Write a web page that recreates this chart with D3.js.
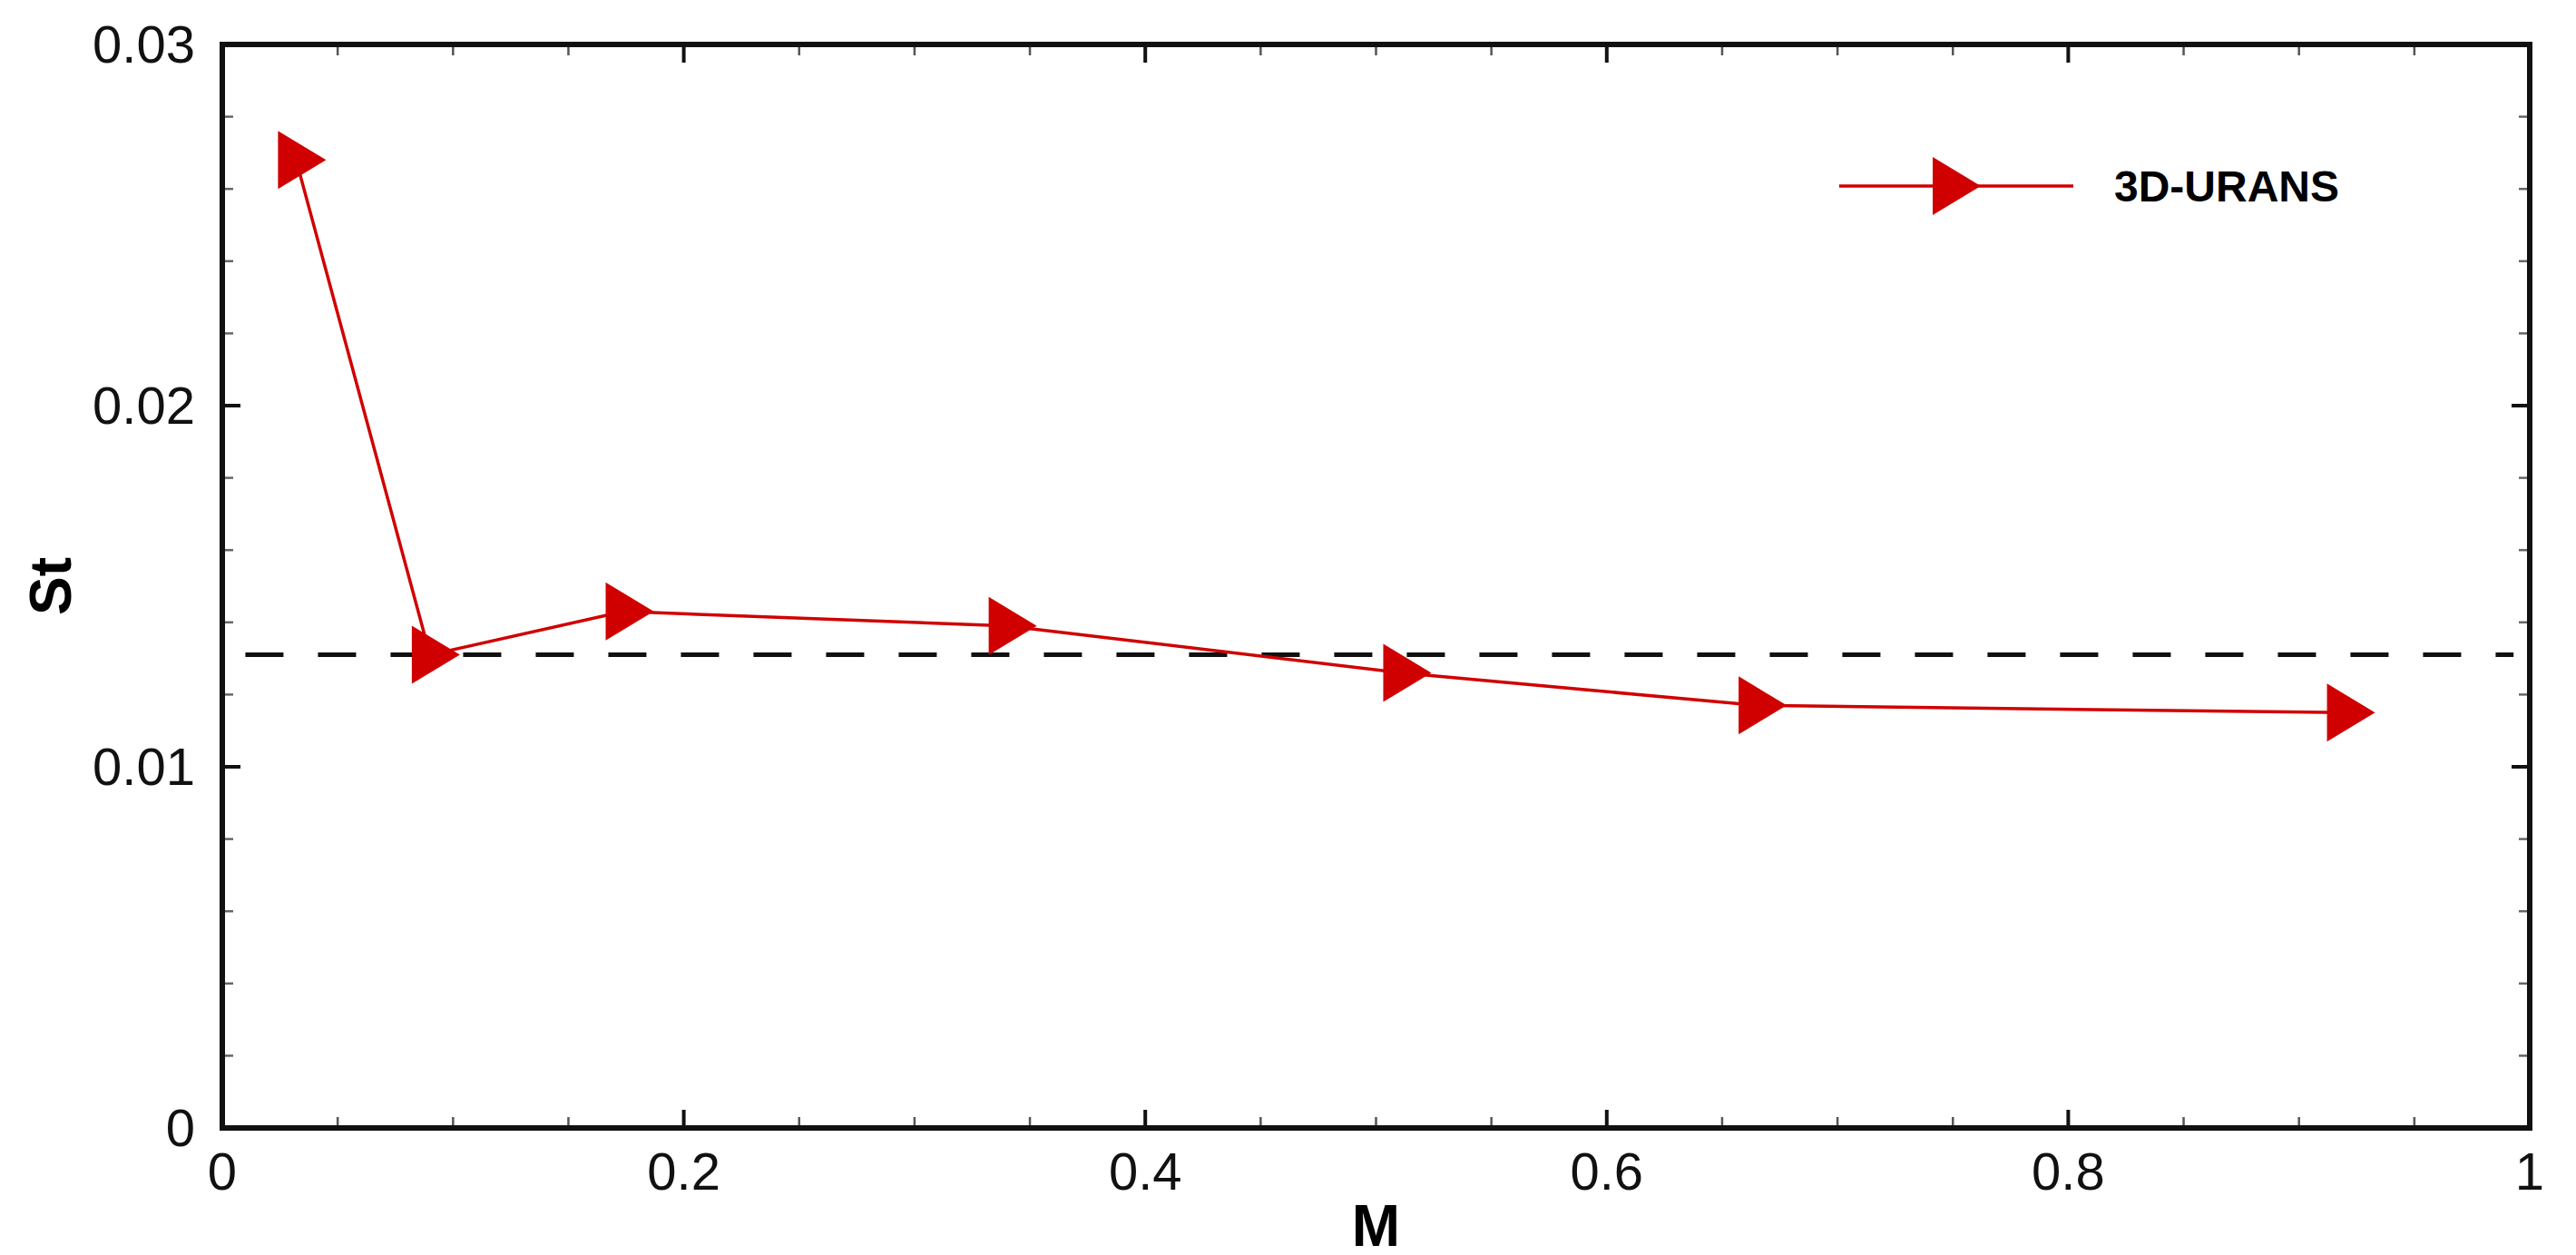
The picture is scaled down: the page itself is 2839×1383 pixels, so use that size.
<!DOCTYPE html>
<html><head><meta charset="utf-8">
<script src="https://cdn.jsdelivr.net/npm/d3@7"></script>
<style>html,body{margin:0;padding:0;background:#fff;}</style>
</head><body>
<svg id="c" width="2839" height="1383"></svg>
<script>
const machNumbers = [0.032, 0.09, 0.174, 0.34, 0.511, 0.665, 0.92];
const strouhal = [0.0268, 0.0131, 0.0143, 0.0139, 0.0126, 0.0117, 0.0115];
const referenceSt = [0.0131];
const referenceRange = [0.01, 0.993];
const xTicks = [0, 0.2, 0.4, 0.6, 0.8, 1];
const yTicks = [0, 0.01, 0.02, 0.03];
const seriesName = "3D-URANS";

const svg = d3.select("#c");
const L = 245, R = 2788, T = 49, B = 1243;
const x = d3.scaleLinear().domain([0, 1]).range([L, R]);
const y = d3.scaleLinear().domain([0, 0.03]).range([B, T]);
const font = "Arial, 'Liberation Sans', sans-serif";
const red = "#d00000";

const xMinor = d3.range(0, 1.0001, 0.05).filter(v => Math.abs(v*5 - Math.round(v*5)) > 1e-6);
const yMinor = d3.range(0, 0.03001, 0.002).filter(v => Math.abs(v*100 - Math.round(v*100)) > 1e-6);
const g = svg.append("g").attr("stroke", "#111");
xTicks.forEach(v => {
  g.append("line").attr("x1", x(v)).attr("x2", x(v)).attr("y1", B).attr("y2", B-20).attr("stroke-width", 4);
  g.append("line").attr("x1", x(v)).attr("x2", x(v)).attr("y1", T).attr("y2", T+20).attr("stroke-width", 4);
});
xMinor.forEach(v => {
  g.append("line").attr("x1", x(v)).attr("x2", x(v)).attr("y1", B).attr("y2", B-12).attr("stroke-width", 2.5).attr("stroke", "#555");
  g.append("line").attr("x1", x(v)).attr("x2", x(v)).attr("y1", T).attr("y2", T+12).attr("stroke-width", 2.5).attr("stroke", "#555");
});
yTicks.forEach(v => {
  g.append("line").attr("y1", y(v)).attr("y2", y(v)).attr("x1", L).attr("x2", L+20).attr("stroke-width", 4);
  g.append("line").attr("y1", y(v)).attr("y2", y(v)).attr("x1", R).attr("x2", R-20).attr("stroke-width", 4);
});
yMinor.forEach(v => {
  g.append("line").attr("y1", y(v)).attr("y2", y(v)).attr("x1", L).attr("x2", L+12).attr("stroke-width", 2.5).attr("stroke", "#666");
  g.append("line").attr("y1", y(v)).attr("y2", y(v)).attr("x1", R).attr("x2", R-12).attr("stroke-width", 2.5).attr("stroke", "#666");
});

const fmt = v => v === 0 ? "0" : (v === 1 ? "1" : String(+v.toFixed(2)));
svg.append("g").selectAll("text").data(xTicks).join("text")
  .attr("x", d => x(d)).attr("y", B + 68).attr("text-anchor", "middle")
  .attr("font-family", font).attr("font-size", 58).attr("fill", "#111").text(fmt);
svg.append("g").selectAll("text").data(yTicks).join("text")
  .attr("x", L - 30).attr("y", d => y(d) + 20).attr("text-anchor", "end")
  .attr("font-family", font).attr("font-size", 58).attr("fill", "#111").text(fmt);

svg.append("text").attr("x", x(0.5)).attr("y", B + 130).attr("text-anchor", "middle")
  .attr("font-family", font).attr("font-weight", "bold").attr("font-size", 64).text("M");
svg.append("text").attr("transform", `translate(78,${y(0.015)}) rotate(-90)`).attr("text-anchor", "middle")
  .attr("font-family", font).attr("font-weight", "bold").attr("font-size", 64).text("St");

svg.append("line").attr("x1", x(referenceRange[0])).attr("x2", x(referenceRange[1]))
  .attr("y1", y(referenceSt[0])).attr("y2", y(referenceSt[0]))
  .attr("stroke", "#111").attr("stroke-width", 5).attr("stroke-dasharray", "42,38");

const pts = machNumbers.map((m, i) => [m, strouhal[i]]);
svg.append("path").datum(pts)
  .attr("d", d3.line().x(d => x(d[0])).y(d => y(d[1])))
  .attr("fill", "none").attr("stroke", red).attr("stroke-width", 3.5);
const tri = "M-20,-32 L33,0 L-20,32 Z";
svg.append("g").selectAll("path").data(pts).join("path")
  .attr("transform", d => `translate(${x(d[0])},${y(d[1])})`)
  .attr("d", tri).attr("fill", red);

svg.append("rect").attr("x", L).attr("y", T).attr("width", R-L).attr("height", B-T)
  .attr("fill", "none").attr("stroke", "#111").attr("stroke-width", 6);

const ly = 205;
svg.append("line").attr("x1", 2027).attr("x2", 2285).attr("y1", ly).attr("y2", ly)
  .attr("stroke", red).attr("stroke-width", 3.5);
svg.append("path").attr("transform", `translate(2150,${ly})`).attr("d", tri).attr("fill", red);
svg.append("text").attr("x", 2330).attr("y", ly + 17).attr("font-family", font)
  .attr("font-weight", "bold").attr("font-size", 48).text(seriesName);
</script>
</body></html>
